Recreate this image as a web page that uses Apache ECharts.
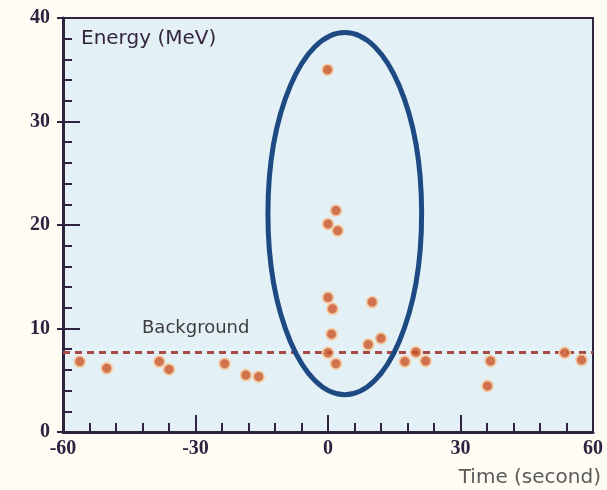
<!DOCTYPE html>
<html>
<head>
<meta charset="utf-8">
<script src="https://cdn.jsdelivr.net/npm/echarts@6/dist/echarts.min.js"></script>
<style>
  html, body { margin: 0; padding: 0; background: #fffcf4; }
  #chart { width: 607px; height: 490px; }
</style>
</head>
<body>
<div id="chart"></div>
<script>
// Neutrino events: arrival time (s) and energy (MeV)
const eventTimes = [
  -56.2, -50.1, -38.2, -36.0, -23.4, -18.6, -15.7,
  -0.1, 1.8, 0.0, 2.2,
  0.0, 1.0, 10.0, 0.8, 9.1, 12.0, 0.0, 1.8,
  17.4, 19.9, 22.1, 36.8, 36.1, 53.6, 57.4
];
const eventEnergies = [
  6.8, 6.15, 6.8, 6.05, 6.6, 5.5, 5.35,
  35.0, 21.4, 20.1, 19.45,
  13.0, 11.9, 12.55, 9.45, 8.45, 9.05, 7.65, 6.6,
  6.8, 7.7, 6.85, 6.85, 4.45, 7.65, 6.95
];
const backgroundLevel = 7.66;
const xTicks = [-60, -30, 0, 30, 60];
const yTicks = [0, 10, 20, 30, 40];
// Highlighted burst region: centre (s, MeV) and half-widths (s, MeV)
const burstCentre = [3.8, 21.1];
const burstHalf = [17.4, 17.5];

const axisColor = '#2e2440';
const labelFont = { fontFamily: 'Liberation Serif', fontWeight: 'bold', fontSize: 20, color: '#2e2440' };

const points = eventTimes.map((t, i) => [t, eventEnergies[i]]);

const chart = echarts.init(document.getElementById('chart'));

const xBase = {
  type: 'value', min: xTicks[0], max: xTicks[xTicks.length - 1], interval: 30,
  splitLine: { show: false }
};
const yBase = {
  type: 'value', min: yTicks[0], max: yTicks[yTicks.length - 1], interval: 10,
  splitLine: { show: false }
};

chart.setOption({
  backgroundColor: '#fffcf4',
  animation: false,
  grid: {
    left: 63, right: 14, top: 18, bottom: 58,
    show: true, backgroundColor: '#e3f0f5',
    borderColor: axisColor, borderWidth: 2
  },
  xAxis: [
    Object.assign({}, xBase, {
      position: 'bottom',
      axisLine: { show: true, onZero: false, lineStyle: { color: axisColor, width: 3 } },
      axisTick: { show: true, inside: true, length: 17, lineStyle: { color: axisColor, width: 2 } },
      minorTick: { show: true, splitNumber: 5, length: 9, lineStyle: { color: axisColor, width: 2 } },
      axisLabel: Object.assign({ margin: 7, formatter: v => String(v) }, labelFont)
    })
  ],
  yAxis: [
    Object.assign({}, yBase, {
      position: 'left',
      axisLine: { show: true, onZero: false, lineStyle: { color: axisColor, width: 3 } },
      axisTick: { show: true, inside: true, length: 17, lineStyle: { color: axisColor, width: 2 } },
      minorTick: { show: true, splitNumber: 5, length: 9, lineStyle: { color: axisColor, width: 2 } },
      axisLabel: Object.assign({ margin: 13 }, labelFont)
    }),
    Object.assign({}, yBase, {
      position: 'left',
      axisLine: { show: false, onZero: false },
      axisTick: { show: true, inside: false, length: 6, lineStyle: { color: axisColor, width: 2 } },
      axisLabel: { show: false }
    })
  ],
  series: [{
    type: 'scatter',
    data: points,
    symbolSize: 11,
    itemStyle: { color: '#cc5224', borderColor: '#f6cfa6', borderWidth: 2 },
    z: 5,
    markLine: {
      silent: true,
      symbol: 'none',
      label: { show: false },
      lineStyle: { color: '#a84a44', type: [7, 5], width: 3 },
      data: [{ yAxis: backgroundLevel }],
      z: 3
    }
  }]
});

function drawOverlay() {
  const c = chart.convertToPixel({ gridIndex: 0 }, burstCentre);
  const e = chart.convertToPixel({ gridIndex: 0 },
    [burstCentre[0] + burstHalf[0], burstCentre[1] + burstHalf[1]]);
  const bg = chart.convertToPixel({ gridIndex: 0 }, [-30, backgroundLevel]);
  chart.setOption({
    graphic: [
      {
        type: 'ellipse', z: 10,
        shape: { cx: c[0], cy: c[1], rx: Math.abs(e[0] - c[0]), ry: Math.abs(c[1] - e[1]) },
        style: { fill: 'none', stroke: '#1d4a82', lineWidth: 5 }
      },
      {
        type: 'text', left: 81, top: 29, z: 10,
        style: { text: 'Energy (MeV)', fontFamily: 'DejaVu Sans', fontSize: 20, fill: '#35263f' }
      },
      {
        type: 'text', z: 10, x: 142, y: bg[1] - 33,
        style: { text: 'Background', fontFamily: 'DejaVu Sans', fontSize: 18, fill: '#3d3d3d' }
      },
      {
        type: 'text', right: 6, top: 468, z: 10,
        style: { text: 'Time (second)', fontFamily: 'DejaVu Sans', fontSize: 20, fill: '#5a5a5a' }
      }
    ]
  });
}
drawOverlay();
</script>
</body>
</html>
